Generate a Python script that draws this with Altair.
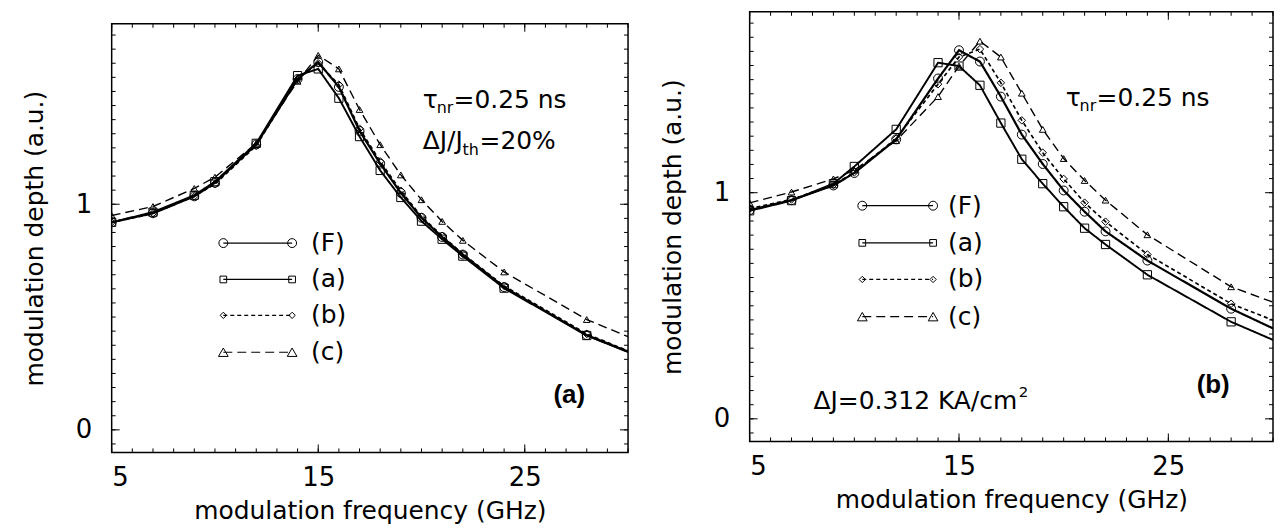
import altair as alt
import pandas as pd

FONT = "DejaVu Sans"

# ---------------- data ----------------
freq = [5, 7, 9, 10, 12, 14, 15, 16, 17, 18, 19, 20, 21, 22, 24, 28, 30]
series = ["(F)", "(a)", "(b)", "(c)"]

# panel (a): tau_nr = 0.25 ns, dJ/Jth = 20 %
a_F = [0.92, 0.96, 1.035, 1.095, 1.265, 1.555, 1.63, 1.52, 1.325, 1.18, 1.05, 0.94, 0.855, 0.777, 0.633, 0.42, 0.347]
a_a = [0.92, 0.965, 1.04, 1.10, 1.27, 1.57, 1.60, 1.47, 1.30, 1.15, 1.03, 0.925, 0.845, 0.77, 0.628, 0.418, 0.345]
a_b = [0.92, 0.96, 1.035, 1.09, 1.26, 1.555, 1.625, 1.53, 1.335, 1.19, 1.06, 0.945, 0.86, 0.78, 0.638, 0.425, 0.35]
a_c = [0.95, 0.99, 1.07, 1.12, 1.27, 1.545, 1.66, 1.60, 1.42, 1.264, 1.13, 1.02, 0.924, 0.84, 0.70, 0.489, 0.413]

# panel (b): tau_nr = 0.25 ns, dJ = 0.312 KA/cm^2
b_F = [0.923, 0.967, 1.032, 1.087, 1.236, 1.505, 1.63, 1.58, 1.425, 1.257, 1.127, 1.01, 0.916, 0.829, 0.70, 0.487, 0.40]
b_a = [0.92, 0.965, 1.04, 1.116, 1.28, 1.575, 1.56, 1.475, 1.308, 1.148, 1.04, 0.938, 0.843, 0.771, 0.637, 0.429, 0.349]
b_b = [0.93, 0.97, 1.035, 1.09, 1.24, 1.48, 1.60, 1.635, 1.486, 1.32, 1.177, 1.061, 0.956, 0.872, 0.727, 0.509, 0.436]
b_c = [0.955, 1.003, 1.061, 1.10, 1.23, 1.425, 1.56, 1.67, 1.60, 1.44, 1.28, 1.151, 1.054, 0.967, 0.814, 0.584, 0.516]

x_major = [5, 15, 25]
x_minor = list(range(5, 31))
y_major = [0, 1]
y_minor = [i / 16 for i in range(-1, 29)]

shape_range = ["circle", "square", "diamond", "triangle-up"]
size_range = [80, 45, 40, 95]
dash_range = [[1, 0], [1, 0], [4, 3], [9, 5]]


def panel(vals, W, H, lw, leg_x0, leg_x1, leg_tx, leg_ys, texts, tag, tag_xy):
    rows = []
    for s, ys in zip(series, vals):
        for x, y in zip(freq, ys):
            rows.append({"x": x, "y": y, "s": s})
    df = pd.DataFrame(rows)
    one = pd.DataFrame({"k": [0]})

    xs = alt.Scale(domain=[5, 30], nice=False, zero=False)
    ysc = alt.Scale(domain=[-0.1, 1.8], nice=False, zero=False)
    xaxis = alt.Axis(values=x_major, ticks=False, domain=False, grid=False,
                     labelPadding=12, labelFont=FONT, labelFontSize=26,
                     labelColor="black", title="modulation frequency (GHz)",
                     titleFont=FONT, titleFontSize=25, titleFontWeight="normal",
                     titleColor="black", titlePadding=8)
    yaxis = alt.Axis(values=y_major, ticks=False, domain=False, grid=False,
                     labelPadding=20, labelFont=FONT, labelFontSize=26,
                     labelColor="black", title="modulation depth (a.u.)",
                     titleFont=FONT, titleFontSize=25, titleFontWeight="normal",
                     titleColor="black", titlePadding=28)
    X = alt.X("x:Q", scale=xs, axis=xaxis)
    Y = alt.Y("y:Q", scale=ysc, axis=yaxis)

    lines = alt.Chart(df).mark_line(color="black", clip=True).encode(
        x=X, y=Y, detail="s:N",
        strokeDash=alt.StrokeDash("s:N", scale=alt.Scale(domain=series, range=dash_range), legend=None),
        strokeWidth=alt.StrokeWidth("s:N", scale=alt.Scale(domain=series, range=lw), legend=None),
    )
    pts = alt.Chart(df).transform_filter("datum.x < 30").mark_point(
        filled=False, color="black", strokeWidth=1, opacity=1, clip=True
    ).encode(
        x=X, y=Y,
        shape=alt.Shape("s:N", scale=alt.Scale(domain=series, range=shape_range), legend=None),
        size=alt.Size("s:N", scale=alt.Scale(domain=series, range=size_range), legend=None),
    )

    # inward ticks on all four sides
    xt_min = pd.DataFrame({"x": x_minor})
    xt_maj = pd.DataFrame({"x": x_major})
    yt_min = pd.DataFrame({"y": y_minor})
    yt_maj = pd.DataFrame({"y": y_major})
    layers = [lines, pts]
    for d, L in ((xt_min, 4), (xt_maj, 8)):
        layers.append(alt.Chart(d).mark_rule(color="black", strokeWidth=1).encode(
            x=X, y=alt.value(H), y2=alt.value(H - L)))
        layers.append(alt.Chart(d).mark_rule(color="black", strokeWidth=1).encode(
            x=X, y=alt.value(0), y2=alt.value(L)))
    for d, L in ((yt_min, 4), (yt_maj, 8)):
        layers.append(alt.Chart(d).mark_rule(color="black", strokeWidth=1).encode(
            y=Y, x=alt.value(0), x2=alt.value(L)))
        layers.append(alt.Chart(d).mark_rule(color="black", strokeWidth=1).encode(
            y=Y, x=alt.value(W), x2=alt.value(W - L)))

    # legend drawn inside the axes
    for i, s in enumerate(series):
        yy = leg_ys[i]
        layers.append(alt.Chart(one).mark_rule(
            color="black", strokeDash=dash_range[i], strokeWidth=1.2).encode(
            x=alt.value(leg_x0), x2=alt.value(leg_x1), y=alt.value(yy)))
        for xx in (leg_x0, leg_x1):
            layers.append(alt.Chart(one).mark_point(
                shape=shape_range[i], size=size_range[i], filled=False,
                color="black", strokeWidth=1, opacity=1).encode(
                x=alt.value(xx), y=alt.value(yy)))
        layers.append(alt.Chart(one).mark_text(
            text=s, font=FONT, fontSize=25, align="left", baseline="middle",
            color="black").encode(x=alt.value(leg_tx), y=alt.value(yy)))

    # annotations
    for (t, tx, ty, fs) in texts:
        layers.append(alt.Chart(one).mark_text(
            text=t, font=FONT, fontSize=fs, align="left", baseline="alphabetic",
            color="black").encode(x=alt.value(tx), y=alt.value(ty)))
    layers.append(alt.Chart(one).mark_text(
        text=tag, font="Liberation Sans", fontSize=26, fontWeight="bold",
        align="center", baseline="middle", color="black").encode(
        x=alt.value(tag_xy[0]), y=alt.value(tag_xy[1])))

    return alt.layer(*layers).properties(width=W, height=H)


left_texts = [
    ("τ", 312, 84, 25), ("nr", 326, 90, 16), ("=0.25 ns", 343, 84, 25),
    ("ΔJ/J", 312, 126, 25), ("th", 352, 132, 16), ("=20%", 369, 126, 25),
]
right_texts = [
    ("τ", 317, 94, 25), ("nr", 331, 100, 16), ("=0.25 ns", 348, 94, 25),
    ("ΔJ=0.312 KA/cm", 64, 398, 25), ("2", 270, 386, 15),
]

left = panel([a_F, a_a, a_b, a_c], 518, 430, [2.2, 1.4, 1.4, 1.3],
             112, 181, 200, [220, 256.5, 292.5, 329.5], left_texts,
             "(a)", (459, 372.5))
right = panel([b_F, b_a, b_b, b_c], 525, 431, [1.3, 1.1, 1.3, 1.3],
              113, 184, 199, [194.5, 231.8, 268.5, 305.8], right_texts,
              "(b)", (465, 374))

# empty strip that lowers the left panel relative to the right one
spacer = alt.Chart(pd.DataFrame({"k": [0]})).mark_point(opacity=0, size=1).encode(
    x=alt.value(1), y=alt.value(1)
).properties(width=518, height=9, view=alt.ViewBackground(stroke="transparent"))

left_col = alt.vconcat(spacer, left, spacing=0)

chart = alt.hconcat(left_col, right, spacing=29).properties(
    padding={"left": 13, "top": 1, "right": 0, "bottom": 0},
    background="white",
).configure_view(stroke="black", strokeWidth=1.5)

chart.save("out.html", embed_options={"renderer": "svg", "actions": False})
